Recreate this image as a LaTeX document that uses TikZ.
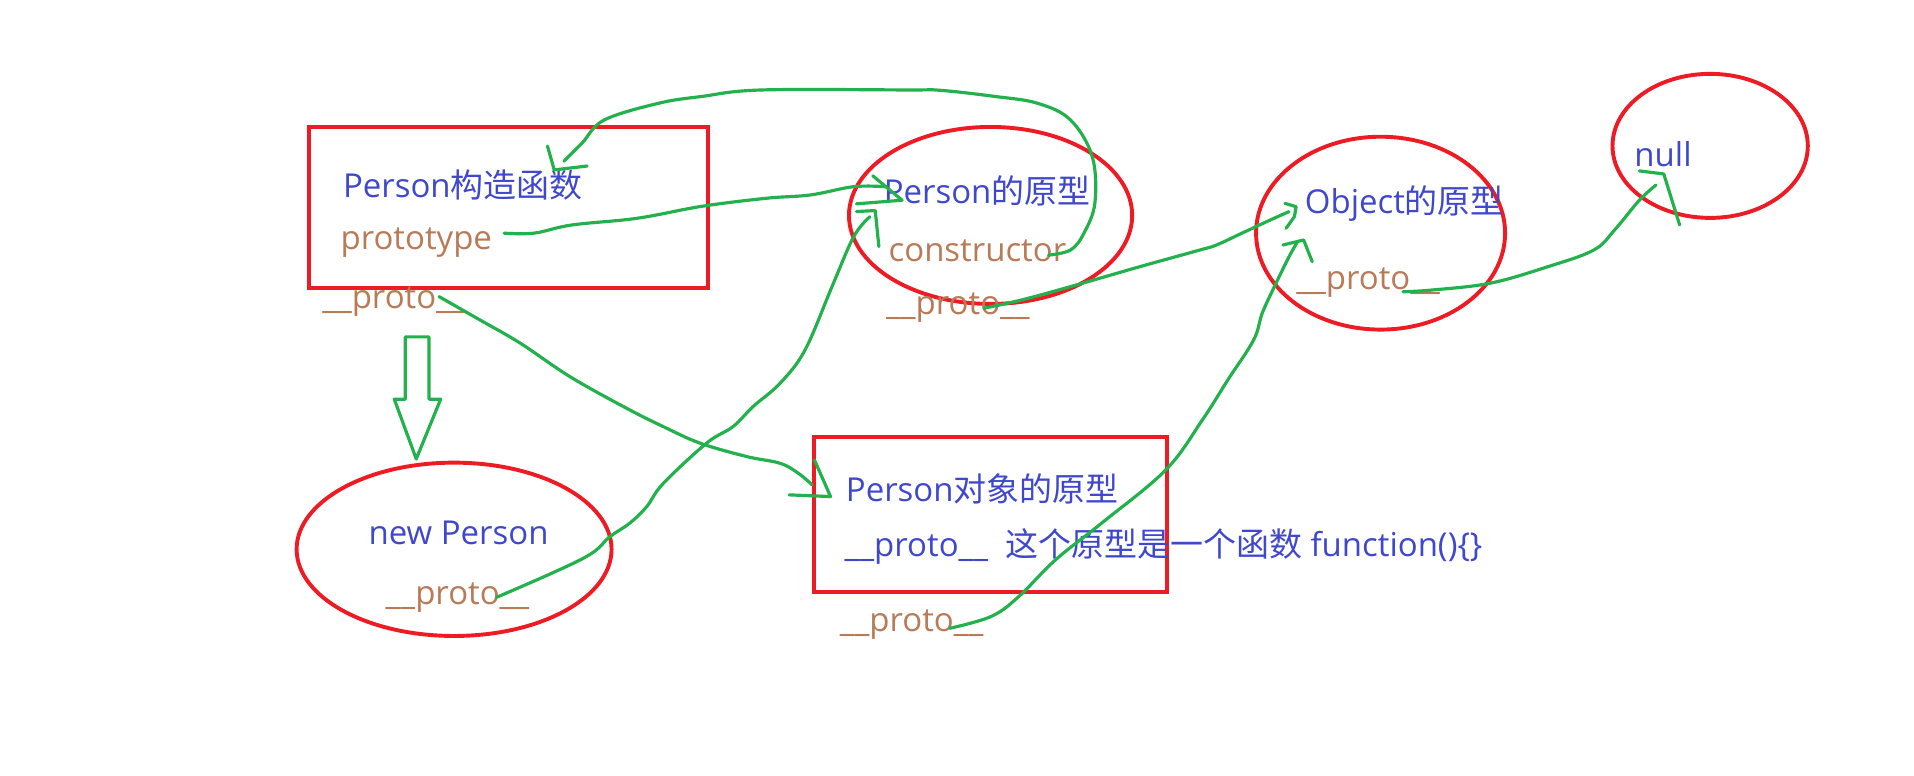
\documentclass[tikz,border=0pt]{standalone}
\usepackage{fontspec}
\setmainfont{Open Sans}
\newfontfamily\cjk{Noto Sans CJK SC}
\usetikzlibrary{shapes.geometric}
\definecolor{pred}{HTML}{ED1C24}
\definecolor{pgreen}{HTML}{22B14C}
\definecolor{pblue}{HTML}{3F48CC}
\definecolor{pbrown}{HTML}{B97A57}
\tikzset{
  redbox/.style={draw=pred, line width=3.2pt, inner sep=0pt, outer sep=0pt},
  redell/.style={ellipse, draw=pred, line width=3.2pt, inner sep=0pt, outer sep=0pt},
  bluetxt/.style={text=pblue, anchor=base west, inner sep=0pt, outer sep=0pt, font=\fontsize{27}{32}\selectfont},
  browntxt/.style={text=pbrown, anchor=base west, inner sep=0pt, outer sep=0pt, font=\fontsize{27}{32}\selectfont},
  gline/.style={draw=pgreen, line width=2.6pt, line cap=round, line join=round},
}
\begin{document}
\begin{tikzpicture}[x=1pt,y=-1pt]
\useasboundingbox (0,0) rectangle (1568,635);
% shapes
\node (r1) [redbox, minimum width=327pt, minimum height=132pt] at (416.5,170) {};
\node (r2) [redbox, minimum width=289pt, minimum height=127pt] at (811.5,421.5) {};
\node (eNP) [redell, minimum width=258pt, minimum height=142pt] at (372,450) {};
\node (ePP) [redell, minimum width=232pt, minimum height=145pt] at (811.5,176.5) {};
\node (eOP) [redell, minimum width=204pt, minimum height=158pt] at (1131,191) {};
\node (eNull) [redell, minimum width=160pt, minimum height=118pt] at (1401,119.5) {};
% texts
\node (tPC) [bluetxt] at (281,162) {Person{\cjk 构造函数}};
\node (tProto) [browntxt] at (279,204) {prototype};
\node (tU1) [browntxt] at (264,253) {\_\_proto\_\_};
\node (tPP) [bluetxt] at (724,167) {Person{\cjk 的原型}};
\node (tCons) [browntxt] at (728,214) {constructor};
\node (tU2) [browntxt] at (726,258) {\_\_proto\_\_};
\node (tOP) [bluetxt] at (1069,175) {Object{\cjk 的原型}};
\node (tU3) [browntxt] at (1062,237) {\_\_proto\_\_};
\node (tNull) [bluetxt] at (1339,136) {null};
\node (tNP) [bluetxt] at (302,446) {new Person};
\node (tU4) [browntxt] at (316,495) {\_\_proto\_\_};
\node (tPO) [bluetxt] at (693,411) {Person{\cjk 对象的原型}};
\node (tPOL) [bluetxt] at (692,456) {\_\_proto\_\_\ \ {\cjk 这个原型是一个函数} function()\{\}};
\node (tU5) [browntxt] at (688,517) {\_\_proto\_\_};
% hollow arrow
\draw[gline] (332,276) -- (351.5,276) -- (351.5,327) -- (361,327) -- (341,376) -- (323,327) -- (332,327) -- cycle;
% connector end points
\coordinate (a1s) at (413,191);   \coordinate (a1e) at (726,153);
\coordinate (a2s) at (859,209);   \coordinate (a2e) at (462,132);
\coordinate (a3s) at (359.7,243); \coordinate (a3e) at (665.3,397.2);
\coordinate (a4s) at (406.9,489.3); \coordinate (a4e) at (712.7,177.5);
\coordinate (a5s) at (806,252.5); \coordinate (a5e) at (1056,173.4);
\coordinate (a6s) at (778,514.7); \coordinate (a6e) at (1063,198);
\coordinate (a7s) at (1149.4,239); \coordinate (a7e) at (1356.6,151.6);
% 1 prototype -> Person的原型
\draw[gline] plot[smooth, tension=0.6] coordinates {(a1s) (437.5,191) (468.5,184.3) (522,178.8) (575,169) (628,162.4) (664,159.7) (699.4,152.9) (a1e)};
\draw[gline] (715,144) -- (739,164) -- (701.6,167);
% 2 constructor -> Person构造函数
\draw[gline] plot[smooth, tension=0.6] coordinates {(a2s) (877,204.8) (888,191) (897,166) (894.8,128.3) (877,98.3) (850,84.6) (815,79) (770.5,74) (744,73.7) (624,73.7) (575,79) (539.5,84.6) (495,98.3) (477,117) (a2e)};
\draw[gline] (448.5,119.6) -- (454,139.2) -- (481,136);
% 3 __proto__ -> Person对象的原型
\draw[gline] plot[smooth, tension=0.6] coordinates {(a3s) (393,262) (426,281) (467,308.6) (513.4,334.5) (543.4,349.5) (573.4,363) (611.7,374) (639,379.5) (654,387.7) (a3e)};
\draw[gline] (667.2,376.8) -- (680.4,406.8) -- (646.5,405.4);
% 4 new Person __proto__ -> Person的原型
\draw[gline] plot[smooth, tension=0.6] coordinates {(a4s) (477.8,457.4) (499.7,439.6) (516,428.5) (529.8,415) (543.4,396) (578.9,363) (600.5,349.5) (617,333) (639,314) (659.5,286.7) (681.6,234.8) (699.4,193.8) (a4e)};
\draw[gline] (701.6,173.3) -- (717,172.5) -- (720,202);
% 5 Person的原型 __proto__ -> Object的原型
\draw[gline] plot[smooth, tension=0.6] coordinates {(a5s) (837,245.7) (877,234.8) (934,218.4) (983,204.8) (996.6,200.7) (1017,191.2) (1040.7,180.2) (a5e)};
\draw[gline] (1052.6,166.6) -- (1061.8,169.3) -- (1060.4,177.5) -- (1053.6,187);
% 6 Person对象的原型 __proto__ -> Object的原型
\draw[gline] plot[smooth, tension=0.6] coordinates {(a6s) (812,505) (834.6,488.7) (864.6,458.7) (902.3,428.7) (955,385) (985,344) (1006,311) (1027,278.5) (1034,256.7) (1044,234.8) (1056,210.3) (a6e)};
\draw[gline] (1051,200.7) -- (1068,196.6) -- (1075,214.4);
% 7 Object __proto__ -> null
\draw[gline] plot[smooth, tension=0.6] coordinates {(a7s) (1173,237.6) (1220.8,232) (1268,218.5) (1305.7,204.8) (1322.7,188.4) (1343,164) (a7e)};
\draw[gline] (1343,140) -- (1363,142.5) -- (1376,184.3);
\end{tikzpicture}
\end{document}
